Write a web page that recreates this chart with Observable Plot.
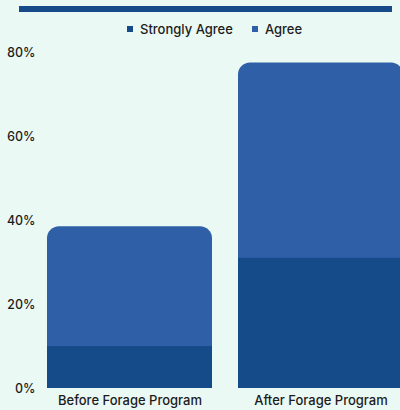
<!DOCTYPE html>
<html>
<head>
<meta charset="utf-8">
<script src="https://cdn.jsdelivr.net/npm/d3@7"></script>
<script src="https://cdn.jsdelivr.net/npm/@observablehq/plot@0.6"></script>
<style>
  html, body { margin: 0; padding: 0; background: #ebf9f4; overflow: hidden; width: 400px; height: 410px; }
  body { position: relative; font-family: Inter, "DejaVu Sans", sans-serif; color: #1c1c1c; }
  #topbar { position: absolute; left: 19px; top: 6px; width: 373px; height: 6px; background: #174a88; }
  #legend { position: absolute; left: 127px; top: 21px; display: flex; align-items: center; font-size: 13px; font-weight: 500; white-space: nowrap; }
  .sw { display: inline-block; width: 6px; height: 6px; margin-right: 7px; }
  .item { display: flex; align-items: center; margin-right: 19px; }
  #chart { position: absolute; left: 0; top: 40px; }
</style>
</head>
<body>
<div id="topbar"></div>
<div id="legend"></div>
<div id="chart"></div>
<script>
const categories = ["Before Forage Program", "After Forage Program"];
const stronglyAgree = [10, 31];
const agree = [28.5, 46.5];
const seriesNames = ["Strongly Agree", "Agree"];
const colors = ["#164b89", "#2f60a7"];
const yTicks = [0, 20, 40, 60, 80];

const table = categories.map((c, i) => ({cat: c, sa: stronglyAgree[i], ag: agree[i], total: stronglyAgree[i] + agree[i]}));

const legend = document.getElementById("legend");
seriesNames.forEach((n, i) => {
  const it = document.createElement("span");
  it.className = "item";
  const sw = document.createElement("span");
  sw.className = "sw";
  sw.style.background = colors[i];
  it.appendChild(sw);
  it.appendChild(document.createTextNode(n));
  legend.appendChild(it);
});

const chart = Plot.plot({
  width: 400,
  height: 370,
  marginTop: 12,
  marginBottom: 22,
  marginLeft: 46,
  marginRight: -4,
  style: {background: "transparent", fontFamily: "Inter, sans-serif", fontSize: "12.5px", color: "#1c1c1c", overflow: "hidden"},
  x: {domain: categories, paddingInner: 0.135, paddingOuter: 0, axis: null},
  y: {domain: [0, 80], axis: null},
  marks: [
    Plot.barY(table, {x: "cat", y: "total", fill: colors[1], rx: 12}),
    Plot.barY(table, {x: "cat", y: "sa", fill: colors[0]}),
    Plot.axisY(yTicks, {tickSize: 0, tickPadding: 11, tickFormat: d => d + "%", fontWeight: 500, label: null}),
    Plot.axisX(categories, {tickSize: 0, tickPadding: 7, fontWeight: 500, fontSize: 13, label: null})
  ]
});
document.getElementById("chart").appendChild(chart);
</script>
</body>
</html>
